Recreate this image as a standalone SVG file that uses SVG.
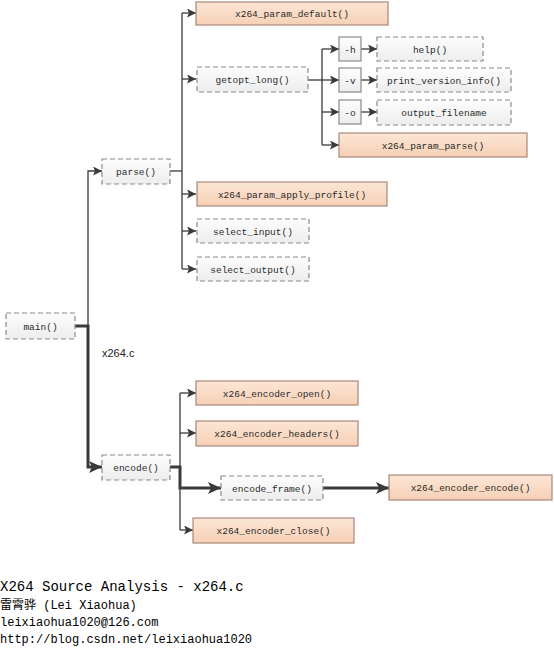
<svg xmlns="http://www.w3.org/2000/svg" width="554" height="649" viewBox="0 0 554 649">
<defs>
<linearGradient id="go" x1="0" y1="0" x2="0" y2="1"><stop offset="0" stop-color="#FCE6D6"/><stop offset="1" stop-color="#F6D0B5"/></linearGradient>
<linearGradient id="gg" x1="0" y1="0" x2="0" y2="1"><stop offset="0" stop-color="#FDFDFD"/><stop offset="1" stop-color="#EDEDED"/></linearGradient>
<marker id="a" markerUnits="userSpaceOnUse" markerWidth="10" markerHeight="9" refX="9" refY="4.5" orient="auto"><path d="M0,0 L9,4.5 L0,9 L2,4.5 z" fill="#3a3a3a"/></marker>
<marker id="ab" markerUnits="userSpaceOnUse" markerWidth="14" markerHeight="12" refX="13" refY="6" orient="auto"><path d="M0,0 L13,6 L0,12 L3,6 z" fill="#3a3a3a"/></marker>
</defs>
<style>
.o{fill:url(#go);stroke:#A8887A;stroke-width:1.2}
.d{fill:url(#gg);stroke:#8A8A8A;stroke-width:1.2;stroke-dasharray:5,3}
.s{fill:url(#gg);stroke:#8A8A8A;stroke-width:1.2}
.t{font-family:"Liberation Mono",monospace;font-size:9.5px;fill:#2a2a2a;text-anchor:middle}
.c{fill:none;stroke:#3a3a3a;stroke-width:1.3}
.k{fill:none;stroke:#3a3a3a;stroke-width:3}
.f{font-family:"Liberation Mono","Noto Sans CJK SC",monospace;fill:#000}
</style>
<g id="connectors">
<polyline class="c" points="170,171 182,171"/>
<line class="c" x1="182" y1="13" x2="182" y2="269"/>
<line class="c" x1="182" y1="13" x2="196" y2="13" marker-end="url(#a)"/>
<line class="c" x1="182" y1="79" x2="196" y2="79" marker-end="url(#a)"/>
<line class="c" x1="182" y1="194" x2="196" y2="194" marker-end="url(#a)"/>
<line class="c" x1="182" y1="231" x2="196" y2="231" marker-end="url(#a)"/>
<line class="c" x1="182" y1="269" x2="196" y2="269" marker-end="url(#a)"/>
<line class="c" x1="308" y1="80" x2="322" y2="80"/>
<line class="c" x1="322" y1="49" x2="322" y2="145"/>
<line class="c" x1="322" y1="49" x2="339" y2="49" marker-end="url(#a)"/>
<line class="c" x1="322" y1="80" x2="339" y2="80" marker-end="url(#a)"/>
<line class="c" x1="322" y1="112" x2="339" y2="112" marker-end="url(#a)"/>
<line class="c" x1="322" y1="145" x2="339" y2="145" marker-end="url(#a)"/>
<line class="c" x1="361" y1="49" x2="377" y2="49" marker-end="url(#a)"/>
<line class="c" x1="361" y1="80" x2="377" y2="80" marker-end="url(#a)"/>
<line class="c" x1="361" y1="112" x2="377" y2="112" marker-end="url(#a)"/>
<polyline class="c" points="88,326 88,171 102,171" marker-end="url(#a)"/>
<polyline class="k" points="75,326 88,326 88,467 102,467" marker-end="url(#ab)"/>
<line class="c" x1="180" y1="393" x2="180" y2="530"/>
<line class="c" x1="180" y1="393" x2="196" y2="393" marker-end="url(#a)"/>
<line class="c" x1="180" y1="433" x2="196" y2="433" marker-end="url(#a)"/>
<line class="c" x1="180" y1="530" x2="193" y2="530" marker-end="url(#a)"/>
<polyline class="k" points="170,467 180,467 180,488 221,488" marker-end="url(#ab)"/>
<line class="k" x1="323" y1="488" x2="389" y2="488" marker-end="url(#ab)"/>
</g>
<g id="main"><rect class="d" x="6" y="313" width="69" height="26"/><text class="t" x="40.5" y="329.5">main()</text></g>
<text id="file-label" x="102" y="357" font-family="Liberation Sans,Arial,sans-serif" font-size="11" fill="#222">x264.c</text>
<g id="parse"><rect class="d" x="102" y="159" width="68" height="25"/><text class="t" x="136" y="175">parse()</text></g>
<g id="x264_param_default"><rect class="o" x="196" y="2" width="192" height="23"/><text class="t" x="292" y="17">x264_param_default()</text></g>
<g id="getopt_long"><rect class="d" x="197" y="67" width="111" height="25"/><text class="t" x="252.5" y="83">getopt_long()</text></g>
<g id="opt-h"><rect class="s" x="339" y="37" width="22" height="24"/><text class="t" x="350" y="52.5">-h</text></g>
<g id="opt-v"><rect class="s" x="339" y="68" width="22" height="24"/><text class="t" x="350" y="83.5">-v</text></g>
<g id="opt-o"><rect class="s" x="339" y="100" width="22" height="24"/><text class="t" x="350" y="115.5">-o</text></g>
<g id="help"><rect class="d" x="377" y="37" width="106" height="24"/><text class="t" x="430" y="52.5">help()</text></g>
<g id="print_version_info"><rect class="d" x="377" y="68" width="134" height="24"/><text class="t" x="444" y="83.5">print_version_info()</text></g>
<g id="output_filename"><rect class="d" x="377" y="100" width="134" height="25"/><text class="t" x="444" y="116">output_filename</text></g>
<g id="x264_param_parse"><rect class="o" x="339" y="133" width="188" height="24"/><text class="t" x="433" y="148.5">x264_param_parse()</text></g>
<g id="x264_param_apply_profile"><rect class="o" x="197" y="182" width="190" height="24"/><text class="t" x="292" y="197.5">x264_param_apply_profile()</text></g>
<g id="select_input"><rect class="d" x="197" y="219" width="112" height="24"/><text class="t" x="253" y="234.5">select_input()</text></g>
<g id="select_output"><rect class="d" x="197" y="257" width="112" height="24"/><text class="t" x="253" y="272.5">select_output()</text></g>
<g id="encode"><rect class="d" x="102" y="455" width="68" height="25"/><text class="t" x="136" y="471">encode()</text></g>
<g id="x264_encoder_open"><rect class="o" x="196" y="381" width="162" height="24"/><text class="t" x="277" y="396.5">x264_encoder_open()</text></g>
<g id="x264_encoder_headers"><rect class="o" x="196" y="421" width="162" height="25"/><text class="t" x="277" y="437">x264_encoder_headers()</text></g>
<g id="encode_frame"><rect class="d" x="221" y="476" width="102" height="24"/><text class="t" x="272" y="491.5">encode_frame()</text></g>
<g id="x264_encoder_encode"><rect class="o" x="389" y="475" width="163" height="25"/><text class="t" x="470.5" y="491">x264_encoder_encode()</text></g>
<g id="x264_encoder_close"><rect class="o" x="193" y="518" width="161" height="25"/><text class="t" x="273.5" y="534">x264_encoder_close()</text></g>
<g id="footer">
<text class="f" x="0" y="591" font-size="14">X264 Source Analysis - x264.c</text>
<text class="f" x="0" y="609" font-size="12">雷霄骅 (Lei Xiaohua)</text>
<text class="f" x="0" y="626" font-size="12">leixiaohua1020@126.com</text>
<text class="f" x="0" y="643" font-size="12">http://blog.csdn.net/leixiaohua1020</text>
</g>
</svg>
